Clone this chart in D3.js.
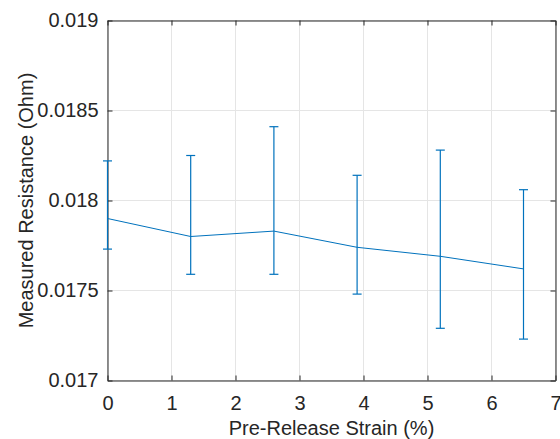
<!DOCTYPE html>
<html>
<head>
<meta charset="utf-8">
<script src="https://cdn.jsdelivr.net/npm/d3@7"></script>
<style>
  html, body { margin: 0; padding: 0; background: #fff; }
  svg { display: block; font-family: "Liberation Sans", Arial, Helvetica, sans-serif; }
</style>
</head>
<body>
<svg id="chart" width="560" height="439"></svg>
<script>
// Pre-release strain levels (%)
const strain = [0, 1.3, 2.6, 3.9, 5.2, 6.5];
// Mean measured resistance (Ohm)
const resistance = [0.01790, 0.01780, 0.01783, 0.01774, 0.01769, 0.01762];
// Error bar bounds (Ohm)
const upperBound = [0.01822, 0.01825, 0.01841, 0.01814, 0.01828, 0.01806];
const lowerBound = [0.01773, 0.01759, 0.01759, 0.01748, 0.01729, 0.01723];
// Axis ticks
const xTicks = [0, 1, 2, 3, 4, 5, 6, 7];
const yTicks = [0.017, 0.0175, 0.018, 0.0185, 0.019];
const yTickLabels = ["0.017", "0.0175", "0.018", "0.0185", "0.019"];

const xLabel = "Pre-Release Strain (%)";
const yLabel = "Measured Resistance (Ohm)";

const svg = d3.select("#chart");
const L = 107.5, T = 20.5, W = 448, H = 360;
const axisColor = "#262626";
const lineColor = "#0072BD";
const gridColor = "#e5e5e5";
const fontSize = 20;

const x = d3.scaleLinear().domain([0, 7]).range([L, L + W]);
const y = d3.scaleLinear().domain([0.017, 0.019]).range([T + H, T]);

// Grid
const grid = svg.append("g");
grid.selectAll("line.vx").data(xTicks).join("line")
  .attr("x1", d => x(d)).attr("x2", d => x(d))
  .attr("y1", T).attr("y2", T + H)
  .attr("stroke", gridColor).attr("stroke-width", 1);
grid.selectAll("line.hy").data(yTicks).join("line")
  .attr("x1", L).attr("x2", L + W)
  .attr("y1", d => y(d)).attr("y2", d => y(d))
  .attr("stroke", gridColor).attr("stroke-width", 1);

// Axes (ticks pointing inward, box on all four sides)
function styleAxis(g) {
  g.selectAll(".domain").attr("stroke", axisColor).attr("stroke-width", 1);
  g.selectAll(".tick line").attr("stroke", axisColor).attr("stroke-width", 1);
  g.selectAll(".tick text").attr("fill", axisColor).attr("font-size", fontSize)
    .attr("font-family", "'Liberation Sans', Arial, sans-serif");
}

const xAxisBottom = d3.axisBottom(x).tickValues(xTicks).tickFormat(d3.format("d"))
  .tickSizeInner(-5).tickSizeOuter(0).tickPadding(15);
svg.append("g").attr("transform", `translate(0,${T + H})`).call(xAxisBottom).call(styleAxis);

const xAxisTop = d3.axisTop(x).tickValues(xTicks).tickFormat("")
  .tickSizeInner(-5).tickSizeOuter(0);
svg.append("g").attr("transform", `translate(0,${T})`).call(xAxisTop).call(styleAxis);

const yAxisLeft = d3.axisLeft(y).tickValues(yTicks)
  .tickFormat((d, i) => yTickLabels[i])
  .tickSizeInner(-5).tickSizeOuter(0).tickPadding(9);
svg.append("g").attr("transform", `translate(${L},0)`).call(yAxisLeft).call(styleAxis);

const yAxisRight = d3.axisRight(y).tickValues(yTicks).tickFormat("")
  .tickSizeInner(-5).tickSizeOuter(0);
svg.append("g").attr("transform", `translate(${L + W},0)`).call(yAxisRight).call(styleAxis);

// Axis labels
svg.append("text")
  .attr("x", x(3.5)).attr("y", 435)
  .attr("text-anchor", "middle")
  .attr("font-size", fontSize).attr("fill", axisColor)
  .text(xLabel);

svg.append("text")
  .attr("transform", `translate(33,${T + H / 2}) rotate(-90)`)
  .attr("text-anchor", "middle")
  .attr("font-size", fontSize).attr("fill", axisColor)
  .text(yLabel);

// Data
const pts = strain.map((s, i) => ({ s, r: resistance[i], hi: upperBound[i], lo: lowerBound[i] }));
const cap = 4.5;

const eb = svg.append("g").attr("stroke", lineColor).attr("stroke-width", 1.2).attr("fill", "none");
eb.selectAll("line.v").data(pts).join("line")
  .attr("x1", d => x(d.s)).attr("x2", d => x(d.s))
  .attr("y1", d => y(d.hi)).attr("y2", d => y(d.lo));
eb.selectAll("line.t").data(pts).join("line")
  .attr("x1", d => x(d.s) - cap).attr("x2", d => x(d.s) + cap)
  .attr("y1", d => y(d.hi)).attr("y2", d => y(d.hi));
eb.selectAll("line.b").data(pts).join("line")
  .attr("x1", d => x(d.s) - cap).attr("x2", d => x(d.s) + cap)
  .attr("y1", d => y(d.lo)).attr("y2", d => y(d.lo));

svg.append("path")
  .datum(pts)
  .attr("fill", "none").attr("stroke", lineColor).attr("stroke-width", 1)
  .attr("d", d3.line().x(d => x(d.s)).y(d => y(d.r)));
</script>
</body>
</html>
